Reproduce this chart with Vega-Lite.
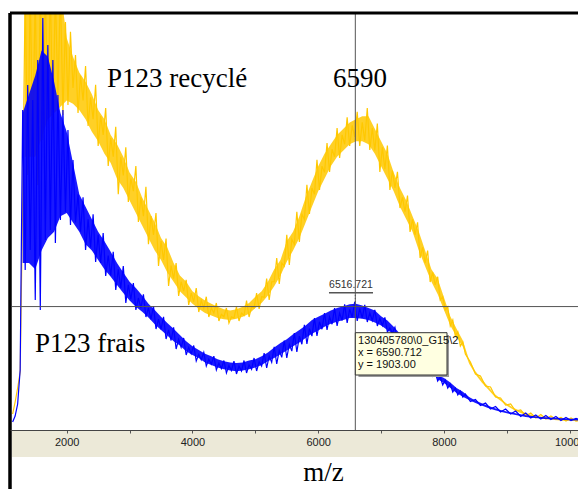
{
  "$schema": "https://vega.github.io/schema/vega-lite/v6.json",
  "width": 568,
  "height": 476,
  "autosize": {"type": "none"},
  "padding": {"left": 10, "top": 13, "right": 0, "bottom": 0},
  "background": "white",
  "config": {"view": {"stroke": null}},
  "datasets": {
    "recycle": [
      {"mz":1140,"i":184},{"mz":1180,"i":376},{"mz":1220,"i":600},{"mz":1260,"i":856},{"mz":1300,"i":3608},{"mz":1340,"i":7000},{"mz":1380,"i":4008},{"mz":1420,"i":7000},{"mz":1460,"i":4408},{"mz":1500,"i":7000},{"mz":1540,"i":3848},{"mz":1580,"i":7000},{"mz":1620,"i":4568},{"mz":1660,"i":7000},{"mz":1700,"i":5048},{"mz":1740,"i":7000},{"mz":1780,"i":4728},{"mz":1820,"i":7000},{"mz":1860,"i":5208},{"mz":1900,"i":7000},{"mz":1940,"i":4968},{"mz":1980,"i":6456},{"mz":2020,"i":5128},{"mz":2060,"i":6300},{"mz":2100,"i":5400},{"mz":2140,"i":5928},{"mz":2180,"i":5000},{"mz":2220,"i":5600},{"mz":2260,"i":5200},{"mz":2300,"i":5750},{"mz":2340,"i":4792},{"mz":2380,"i":5250},{"mz":2420,"i":4900},{"mz":2460,"i":5450},{"mz":2500,"i":4472},{"mz":2540,"i":4950},{"mz":2580,"i":4650},{"mz":2620,"i":5080},{"mz":2660,"i":4152},{"mz":2700,"i":4600},{"mz":2740,"i":4300},{"mz":2780,"i":4780},{"mz":2820,"i":3700},{"mz":2860,"i":4300},{"mz":2900,"i":4000},{"mz":2940,"i":4450},{"mz":2980,"i":3576},{"mz":3020,"i":3950},{"mz":3060,"i":3750},{"mz":3100,"i":4150},{"mz":3140,"i":3256},{"mz":3180,"i":3650},{"mz":3220,"i":3350},{"mz":3260,"i":3820},{"mz":3300,"i":2900},{"mz":3340,"i":3350},{"mz":3380,"i":3050},{"mz":3420,"i":3400},{"mz":3460,"i":2552},{"mz":3500,"i":2950},{"mz":3540,"i":2650},{"mz":3580,"i":2990},{"mz":3620,"i":2232},{"mz":3660,"i":2560},{"mz":3700,"i":2350},{"mz":3740,"i":2600},{"mz":3780,"i":2072},{"mz":3820,"i":2300},{"mz":3860,"i":2150},{"mz":3900,"i":2330},{"mz":3940,"i":1928},{"mz":3980,"i":2120},{"mz":4020,"i":1980},{"mz":4060,"i":2200},{"mz":4100,"i":1816},{"mz":4140,"i":2000},{"mz":4180,"i":1880},{"mz":4220,"i":2060},{"mz":4260,"i":1736},{"mz":4300,"i":1880},{"mz":4340,"i":1800},{"mz":4380,"i":1960},{"mz":4420,"i":1672},{"mz":4460,"i":1780},{"mz":4500,"i":1740},{"mz":4540,"i":1880},{"mz":4580,"i":1640},{"mz":4620,"i":1740},{"mz":4660,"i":1720},{"mz":4700,"i":1900},{"mz":4740,"i":1672},{"mz":4780,"i":1800},{"mz":4820,"i":1760},{"mz":4860,"i":2000},{"mz":4900,"i":1736},{"mz":4940,"i":1900},{"mz":4980,"i":1880},{"mz":5020,"i":2120},{"mz":5060,"i":1864},{"mz":5100,"i":2060},{"mz":5140,"i":2050},{"mz":5180,"i":2350},{"mz":5220,"i":2008},{"mz":5260,"i":2300},{"mz":5300,"i":2300},{"mz":5340,"i":2680},{"mz":5380,"i":2264},{"mz":5420,"i":2600},{"mz":5460,"i":2550},{"mz":5500,"i":3050},{"mz":5540,"i":2568},{"mz":5580,"i":2980},{"mz":5620,"i":2900},{"mz":5660,"i":3420},{"mz":5700,"i":2936},{"mz":5740,"i":3380},{"mz":5780,"i":3300},{"mz":5820,"i":3850},{"mz":5860,"i":3384},{"mz":5900,"i":3800},{"mz":5940,"i":3700},{"mz":5980,"i":4250},{"mz":6020,"i":3768},{"mz":6060,"i":4150},{"mz":6100,"i":4050},{"mz":6140,"i":4520},{"mz":6180,"i":4056},{"mz":6220,"i":4420},{"mz":6260,"i":4300},{"mz":6300,"i":4760},{"mz":6340,"i":4280},{"mz":6380,"i":4650},{"mz":6420,"i":4500},{"mz":6460,"i":4930},{"mz":6500,"i":4472},{"mz":6540,"i":4800},{"mz":6580,"i":4620},{"mz":6620,"i":5020},{"mz":6660,"i":4472},{"mz":6700,"i":4850},{"mz":6740,"i":4560},{"mz":6780,"i":5080},{"mz":6820,"i":4408},{"mz":6860,"i":4760},{"mz":6900,"i":4400},{"mz":6940,"i":4830},{"mz":6980,"i":4056},{"mz":7020,"i":4450},{"mz":7060,"i":4100},{"mz":7100,"i":4480},{"mz":7140,"i":3768},{"mz":7180,"i":4080},{"mz":7220,"i":3800},{"mz":7260,"i":4060},{"mz":7300,"i":3480},{"mz":7340,"i":3650},{"mz":7380,"i":3420},{"mz":7420,"i":3680},{"mz":7460,"i":3096},{"mz":7500,"i":3300},{"mz":7540,"i":3050},{"mz":7580,"i":3250},{"mz":7620,"i":2680},{"mz":7660,"i":2850},{"mz":7700,"i":2600},{"mz":7740,"i":2800},{"mz":7780,"i":2296},{"mz":7820,"i":2450},{"mz":7860,"i":2250},{"mz":7900,"i":2380},{"mz":7940,"i":2008},{"mz":7980,"i":2060},{"mz":8020,"i":1850},{"mz":8060,"i":1900},{"mz":8100,"i":1592},{"mz":8140,"i":1688},{"mz":8180,"i":1432},{"mz":8220,"i":1496},{"mz":8260,"i":1272},{"mz":8300,"i":1336},{"mz":8340,"i":1144},{"mz":8420,"i":1016},{"mz":8500,"i":824},{"mz":8580,"i":792},{"mz":8660,"i":632},{"mz":8740,"i":616},{"mz":8820,"i":456},{"mz":8900,"i":440},{"mz":8980,"i":328},{"mz":9060,"i":344},{"mz":9140,"i":232},{"mz":9220,"i":248},{"mz":9300,"i":152},{"mz":9380,"i":200},{"mz":9460,"i":120},{"mz":9540,"i":176},{"mz":9620,"i":104},{"mz":9700,"i":152},{"mz":9780,"i":96},{"mz":9860,"i":128},{"mz":9940,"i":72},{"mz":10020,"i":120},{"mz":10100,"i":72},{"mz":10180,"i":88}
    ],
    "recycle_band": [
      {"mz":1330,"lo":4300,"hi":7000},{"mz":1500,"lo":4300,"hi":7000},{"mz":1700,"lo":4900,"hi":7000},{"mz":1900,"lo":5100,"hi":7000},{"mz":2000,"lo":5200,"hi":6200},{"mz":2100,"lo":5150,"hi":5900},{"mz":2200,"lo":5050,"hi":5650},{"mz":2300,"lo":4900,"hi":5500},{"mz":2400,"lo":4700,"hi":5300},{"mz":2500,"lo":4550,"hi":5050},{"mz":2600,"lo":4350,"hi":4900},{"mz":2700,"lo":4200,"hi":4650},{"mz":2800,"lo":3950,"hi":4500},{"mz":2900,"lo":3800,"hi":4300},{"mz":3000,"lo":3600,"hi":4050},{"mz":3100,"lo":3400,"hi":3900},{"mz":3200,"lo":3200,"hi":3650},{"mz":3300,"lo":3000,"hi":3450},{"mz":3400,"lo":2800,"hi":3250},{"mz":3500,"lo":2650,"hi":3000},{"mz":3600,"lo":2450,"hi":2850},{"mz":3700,"lo":2300,"hi":2600},{"mz":3800,"lo":2150,"hi":2400},{"mz":3900,"lo":2050,"hi":2300},{"mz":4000,"lo":1950,"hi":2150},{"mz":4100,"lo":1870,"hi":2070},{"mz":4200,"lo":1800,"hi":2000},{"mz":4300,"lo":1760,"hi":1950},{"mz":4400,"lo":1720,"hi":1900},{"mz":4500,"lo":1700,"hi":1860},{"mz":4600,"lo":1690,"hi":1840},{"mz":4700,"lo":1710,"hi":1860},{"mz":4800,"lo":1740,"hi":1900},{"mz":4900,"lo":1790,"hi":1960},{"mz":5000,"lo":1880,"hi":2060},{"mz":5100,"lo":1960,"hi":2150},{"mz":5200,"lo":2080,"hi":2300},{"mz":5300,"lo":2230,"hi":2500},{"mz":5400,"lo":2400,"hi":2650},{"mz":5500,"lo":2620,"hi":2950},{"mz":5600,"lo":2800,"hi":3100},{"mz":5700,"lo":3000,"hi":3350},{"mz":5800,"lo":3250,"hi":3650},{"mz":5900,"lo":3500,"hi":3900},{"mz":6000,"lo":3750,"hi":4150},{"mz":6100,"lo":3950,"hi":4350},{"mz":6200,"lo":4150,"hi":4500},{"mz":6300,"lo":4300,"hi":4650},{"mz":6400,"lo":4400,"hi":4750},{"mz":6500,"lo":4500,"hi":4850},{"mz":6600,"lo":4550,"hi":4900},{"mz":6700,"lo":4550,"hi":4950},{"mz":6800,"lo":4500,"hi":4950},{"mz":6900,"lo":4350,"hi":4750},{"mz":7000,"lo":4150,"hi":4550},{"mz":7100,"lo":3950,"hi":4350},{"mz":7200,"lo":3750,"hi":4050},{"mz":7300,"lo":3500,"hi":3800},{"mz":7400,"lo":3300,"hi":3600},{"mz":7500,"lo":3100,"hi":3350},{"mz":7600,"lo":2800,"hi":3100},{"mz":7700,"lo":2550,"hi":2800},{"mz":7800,"lo":2300,"hi":2500},{"mz":7900,"lo":2100,"hi":2350},{"mz":8000,"lo":1850,"hi":2050},{"mz":8100,"lo":1600,"hi":1750},{"mz":8200,"lo":1420,"hi":1550},{"mz":8300,"lo":1260,"hi":1360},{"mz":8400,"lo":990,"hi":1050},{"mz":8500,"lo":820,"hi":870},{"mz":8600,"lo":690,"hi":740},{"mz":8700,"lo":580,"hi":625},{"mz":8800,"lo":470,"hi":510},{"mz":8900,"lo":395,"hi":430},{"mz":9000,"lo":315,"hi":350},{"mz":9100,"lo":255,"hi":285},{"mz":9200,"lo":210,"hi":240},{"mz":9300,"lo":170,"hi":200},{"mz":9400,"lo":140,"hi":170},{"mz":9500,"lo":120,"hi":150},{"mz":9600,"lo":105,"hi":135},{"mz":9700,"lo":95,"hi":125},{"mz":9800,"lo":85,"hi":115},{"mz":9900,"lo":78,"hi":105},{"mz":10000,"lo":75,"hi":100},{"mz":10131,"lo":70,"hi":95}
    ],
    "frais": [
      {"mz":1140,"i":56},{"mz":1180,"i":152},{"mz":1220,"i":344},{"mz":1260,"i":888},{"mz":1300,"i":5048},{"mz":1340,"i":2488},{"mz":1380,"i":5448},{"mz":1420,"i":2808},{"mz":1460,"i":5208},{"mz":1500,"i":2008},{"mz":1540,"i":5848},{"mz":1580,"i":1848},{"mz":1620,"i":6520},{"mz":1660,"i":2968},{"mz":1700,"i":6088},{"mz":1740,"i":3128},{"mz":1780,"i":5848},{"mz":1820,"i":2920},{"mz":1860,"i":5288},{"mz":1900,"i":3288},{"mz":1940,"i":5048},{"mz":1980,"i":3416},{"mz":2020,"i":4728},{"mz":2060,"i":3208},{"mz":2100,"i":4248},{"mz":2140,"i":3250},{"mz":2180,"i":3700},{"mz":2220,"i":3100},{"mz":2260,"i":3650},{"mz":2300,"i":2808},{"mz":2340,"i":3300},{"mz":2380,"i":2850},{"mz":2420,"i":3380},{"mz":2460,"i":2616},{"mz":2500,"i":3050},{"mz":2540,"i":2600},{"mz":2580,"i":3080},{"mz":2620,"i":2392},{"mz":2660,"i":2720},{"mz":2700,"i":2400},{"mz":2740,"i":2780},{"mz":2780,"i":2168},{"mz":2820,"i":2500},{"mz":2860,"i":2200},{"mz":2900,"i":2550},{"mz":2940,"i":1960},{"mz":2980,"i":2250},{"mz":3020,"i":2020},{"mz":3060,"i":2280},{"mz":3100,"i":1848},{"mz":3140,"i":2040},{"mz":3180,"i":1880},{"mz":3220,"i":2100},{"mz":3260,"i":1736},{"mz":3300,"i":1880},{"mz":3340,"i":1700},{"mz":3380,"i":1910},{"mz":3420,"i":1544},{"mz":3460,"i":1700},{"mz":3500,"i":1540},{"mz":3540,"i":1740},{"mz":3580,"i":1384},{"mz":3620,"i":1530},{"mz":3660,"i":1360},{"mz":3700,"i":1570},{"mz":3740,"i":1224},{"mz":3780,"i":1380},{"mz":3820,"i":1250},{"mz":3860,"i":1400},{"mz":3900,"i":1128},{"mz":3940,"i":1250},{"mz":3980,"i":1150},{"mz":4020,"i":1280},{"mz":4060,"i":1032},{"mz":4100,"i":1140},{"mz":4140,"i":1050},{"mz":4180,"i":1170},{"mz":4220,"i":952},{"mz":4260,"i":1060},{"mz":4300,"i":980},{"mz":4340,"i":1110},{"mz":4380,"i":888},{"mz":4420,"i":1000},{"mz":4460,"i":910},{"mz":4500,"i":1040},{"mz":4540,"i":840},{"mz":4580,"i":960},{"mz":4620,"i":880},{"mz":4660,"i":1030},{"mz":4700,"i":824},{"mz":4740,"i":950},{"mz":4780,"i":870},{"mz":4820,"i":1040},{"mz":4860,"i":840},{"mz":4900,"i":970},{"mz":4940,"i":900},{"mz":4980,"i":1080},{"mz":5020,"i":872},{"mz":5060,"i":1020},{"mz":5100,"i":950},{"mz":5140,"i":1160},{"mz":5180,"i":920},{"mz":5220,"i":1110},{"mz":5260,"i":1010},{"mz":5300,"i":1260},{"mz":5340,"i":984},{"mz":5380,"i":1200},{"mz":5420,"i":1090},{"mz":5460,"i":1360},{"mz":5500,"i":1080},{"mz":5540,"i":1300},{"mz":5580,"i":1190},{"mz":5620,"i":1480},{"mz":5660,"i":1176},{"mz":5700,"i":1430},{"mz":5740,"i":1300},{"mz":5780,"i":1610},{"mz":5820,"i":1304},{"mz":5860,"i":1550},{"mz":5900,"i":1430},{"mz":5940,"i":1720},{"mz":5980,"i":1432},{"mz":6020,"i":1660},{"mz":6060,"i":1540},{"mz":6100,"i":1800},{"mz":6140,"i":1528},{"mz":6180,"i":1740},{"mz":6220,"i":1620},{"mz":6260,"i":1880},{"mz":6300,"i":1592},{"mz":6340,"i":1800},{"mz":6380,"i":1680},{"mz":6420,"i":1940},{"mz":6460,"i":1640},{"mz":6500,"i":1860},{"mz":6540,"i":1730},{"mz":6580,"i":1980},{"mz":6620,"i":1672},{"mz":6660,"i":1870},{"mz":6700,"i":1720},{"mz":6740,"i":1930},{"mz":6780,"i":1656},{"mz":6820,"i":1800},{"mz":6860,"i":1680},{"mz":6900,"i":1850},{"mz":6940,"i":1592},{"mz":6980,"i":1710},{"mz":7020,"i":1600},{"mz":7060,"i":1730},{"mz":7100,"i":1496},{"mz":7140,"i":1560},{"mz":7180,"i":1480},{"mz":7220,"i":1570},{"mz":7260,"i":1352},{"mz":7300,"i":1448},{"mz":7340,"i":1288},{"mz":7380,"i":1352},{"mz":7420,"i":1192},{"mz":7460,"i":1256},{"mz":7500,"i":1112},{"mz":7540,"i":1160},{"mz":7580,"i":1032},{"mz":7620,"i":1080},{"mz":7660,"i":952},{"mz":7700,"i":1000},{"mz":7740,"i":872},{"mz":7780,"i":920},{"mz":7820,"i":792},{"mz":7860,"i":856},{"mz":7900,"i":712},{"mz":7940,"i":776},{"mz":7980,"i":648},{"mz":8020,"i":728},{"mz":8060,"i":600},{"mz":8100,"i":664},{"mz":8140,"i":536},{"mz":8180,"i":600},{"mz":8220,"i":488},{"mz":8260,"i":552},{"mz":8300,"i":456},{"mz":8340,"i":504},{"mz":8420,"i":384},{"mz":8500,"i":416},{"mz":8580,"i":320},{"mz":8660,"i":360},{"mz":8740,"i":264},{"mz":8820,"i":304},{"mz":8900,"i":216},{"mz":8980,"i":264},{"mz":9060,"i":184},{"mz":9140,"i":232},{"mz":9220,"i":144},{"mz":9300,"i":200},{"mz":9380,"i":120},{"mz":9460,"i":168},{"mz":9540,"i":104},{"mz":9620,"i":160},{"mz":9700,"i":96},{"mz":9780,"i":144},{"mz":9860,"i":80},{"mz":9940,"i":128},{"mz":10020,"i":80},{"mz":10100,"i":112},{"mz":10180,"i":88}
    ],
    "frais_band": [
      {"mz":1300,"lo":2600,"hi":5000},{"mz":1400,"lo":2600,"hi":5300},{"mz":1500,"lo":2500,"hi":5600},{"mz":1600,"lo":2800,"hi":6000},{"mz":1700,"lo":3000,"hi":5900},{"mz":1800,"lo":3100,"hi":5500},{"mz":1900,"lo":3350,"hi":5000},{"mz":2000,"lo":3400,"hi":4700},{"mz":2100,"lo":3250,"hi":4200},{"mz":2200,"lo":3100,"hi":3700},{"mz":2300,"lo":2900,"hi":3500},{"mz":2400,"lo":2800,"hi":3300},{"mz":2500,"lo":2650,"hi":3100},{"mz":2600,"lo":2500,"hi":2950},{"mz":2700,"lo":2380,"hi":2780},{"mz":2800,"lo":2250,"hi":2600},{"mz":2900,"lo":2120,"hi":2450},{"mz":3000,"lo":2000,"hi":2300},{"mz":3100,"lo":1900,"hi":2200},{"mz":3200,"lo":1820,"hi":2080},{"mz":3300,"lo":1730,"hi":1950},{"mz":3400,"lo":1620,"hi":1850},{"mz":3500,"lo":1530,"hi":1740},{"mz":3600,"lo":1440,"hi":1640},{"mz":3700,"lo":1350,"hi":1550},{"mz":3800,"lo":1280,"hi":1450},{"mz":3900,"lo":1190,"hi":1350},{"mz":4000,"lo":1130,"hi":1270},{"mz":4100,"lo":1080,"hi":1210},{"mz":4200,"lo":1010,"hi":1150},{"mz":4300,"lo":970,"hi":1110},{"mz":4400,"lo":930,"hi":1060},{"mz":4500,"lo":900,"hi":1030},{"mz":4600,"lo":880,"hi":1010},{"mz":4700,"lo":870,"hi":1000},{"mz":4800,"lo":880,"hi":1010},{"mz":4900,"lo":900,"hi":1040},{"mz":5000,"lo":930,"hi":1060},{"mz":5100,"lo":970,"hi":1110},{"mz":5200,"lo":1030,"hi":1170},{"mz":5300,"lo":1080,"hi":1250},{"mz":5400,"lo":1140,"hi":1320},{"mz":5500,"lo":1200,"hi":1380},{"mz":5600,"lo":1270,"hi":1460},{"mz":5700,"lo":1330,"hi":1530},{"mz":5800,"lo":1400,"hi":1600},{"mz":5900,"lo":1470,"hi":1690},{"mz":6000,"lo":1520,"hi":1740},{"mz":6100,"lo":1580,"hi":1790},{"mz":6200,"lo":1630,"hi":1840},{"mz":6300,"lo":1660,"hi":1880},{"mz":6400,"lo":1690,"hi":1910},{"mz":6500,"lo":1720,"hi":1940},{"mz":6600,"lo":1720,"hi":1950},{"mz":6700,"lo":1710,"hi":1920},{"mz":6800,"lo":1690,"hi":1880},{"mz":6900,"lo":1650,"hi":1840},{"mz":7000,"lo":1600,"hi":1750},{"mz":7100,"lo":1530,"hi":1680},{"mz":7200,"lo":1460,"hi":1580},{"mz":7300,"lo":1380,"hi":1470},{"mz":7400,"lo":1270,"hi":1370},{"mz":7500,"lo":1140,"hi":1250},{"mz":7600,"lo":1060,"hi":1130},{"mz":7700,"lo":960,"hi":1030},{"mz":7800,"lo":860,"hi":930},{"mz":7900,"lo":740,"hi":810},{"mz":8000,"lo":680,"hi":760},{"mz":8100,"lo":600,"hi":690},{"mz":8200,"lo":520,"hi":600},{"mz":8300,"lo":460,"hi":540},{"mz":8400,"lo":410,"hi":455},{"mz":8500,"lo":360,"hi":400},{"mz":8600,"lo":320,"hi":355},{"mz":8700,"lo":280,"hi":315},{"mz":8800,"lo":250,"hi":282},{"mz":8900,"lo":220,"hi":250},{"mz":9000,"lo":195,"hi":225},{"mz":9100,"lo":175,"hi":205},{"mz":9200,"lo":155,"hi":185},{"mz":9300,"lo":138,"hi":165},{"mz":9400,"lo":125,"hi":152},{"mz":9500,"lo":115,"hi":142},{"mz":9600,"lo":105,"hi":132},{"mz":9700,"lo":100,"hi":127},{"mz":9800,"lo":95,"hi":122},{"mz":9900,"lo":90,"hi":117},{"mz":10000,"lo":85,"hi":110},{"mz":10131,"lo":82,"hi":107}
    ]
  },
  "encoding": {
    "x": {
      "field": "mz", "type": "quantitative",
      "scale": {"domain": [1098.3, 10131.2], "nice": false, "zero": false},
      "axis": {
        "orient": "bottom", "offset": -59, "zindex": 1,
        "values": [2000, 3000, 4000, 5000, 6000, 7000, 8000, 9000, 10000],
        "labelExpr": "datum.value % 2000 === 0 ? format(datum.value, 'd') : ''",
        "labelFlush": false, "labelOverlap": false,
        "tickSize": 3, "tickColor": "#555555", "tickWidth": 1,
        "domainColor": "#444444", "domainWidth": 1,
        "labelFont": "Liberation Sans", "labelFontSize": 11, "labelColor": "#222222", "labelPadding": 3,
        "grid": false,
        "title": "m/z", "titleFont": "Liberation Serif", "titleFontSize": 27, "titleFontWeight": "normal",
        "titleColor": "#000000", "titleX": 313, "titleY": 50, "titleAlign": "center", "titleBaseline": "alphabetic"
      }
    },
    "y": {
      "field": "i", "type": "quantitative",
      "scale": {"domain": [-1016, 6600], "nice": false, "zero": false},
      "axis": null
    }
  },
  "layer": [
    {
      "data": {"values": [{"mz": 1130, "mz2": 10131, "i": -504, "i2": -72}]},
      "mark": {"type": "rect", "color": "#ECE9D8"},
      "encoding": {"x2": {"field": "mz2"}, "y2": {"field": "i2"}}
    },
    {
      "data": {"name": "recycle_band"},
      "mark": {"type": "area", "color": "#FFC800", "opacity": 0.85, "clip": true},
      "encoding": {
        "y": {"field": "lo", "type": "quantitative", "scale": {"domain": [-1016, 6600], "nice": false, "zero": false}, "axis": null},
        "y2": {"field": "hi"}
      }
    },
    {
      "data": {"name": "recycle"},
      "mark": {"type": "line", "color": "#FFC800", "strokeWidth": 1.2, "clip": true}
    },
    {
      "data": {"name": "frais_band"},
      "mark": {"type": "area", "color": "#0000FF", "opacity": 0.9, "clip": true},
      "encoding": {
        "y": {"field": "lo", "type": "quantitative", "scale": {"domain": [-1016, 6600], "nice": false, "zero": false}, "axis": null},
        "y2": {"field": "hi"}
      }
    },
    {
      "data": {"name": "frais"},
      "mark": {"type": "line", "color": "#0000FF", "strokeWidth": 1.2, "clip": true}
    },
    {
      "data": {"values": [{"mz": 6590, "i": -72, "i2": 6600}]},
      "mark": {"type": "rule", "color": "#555555", "strokeWidth": 1},
      "encoding": {"y2": {"field": "i2"}}
    },
    {
      "data": {"values": [{"mz": 1130, "mz2": 10131, "i": 1903}]},
      "mark": {"type": "rule", "color": "#555555", "strokeWidth": 1},
      "encoding": {"x2": {"field": "mz2"}}
    },
    {
      "data": {"values": [{"mz": 6171, "mz2": 6871, "i": 2125}]},
      "mark": {"type": "rule", "color": "#555555", "strokeWidth": 1.5},
      "encoding": {"x2": {"field": "mz2"}}
    },
    {
      "data": {"values": [{"mz": 6590, "i": 2088, "i2": 1928}]},
      "mark": {"type": "rule", "color": "#555555", "strokeWidth": 1, "strokeDash": [1, 2]},
      "encoding": {"y2": {"field": "i2"}}
    },
    {
      "data": {"values": [{"mz": 6521, "i": 2200, "label": "6516.721"}]},
      "mark": {"type": "text", "font": "Liberation Sans", "fontSize": 10.5, "color": "#333333", "align": "center", "baseline": "alphabetic"},
      "encoding": {"text": {"field": "label"}}
    },
    {
      "data": {"values": [{"mz": 6640, "mz2": 8080, "i": 1450, "i2": 776}]},
      "mark": {"type": "rect", "fill": "#9A9A9A"},
      "encoding": {"x2": {"field": "mz2"}, "y2": {"field": "i2"}}
    },
    {
      "data": {"values": [{"mz": 6590, "mz2": 8048, "i": 1485, "i2": 808}]},
      "mark": {"type": "rect", "fill": "#FFFFE1", "stroke": "#333333", "strokeWidth": 1},
      "encoding": {"x2": {"field": "mz2"}, "y2": {"field": "i2"}}
    },
    {
      "data": {"values": [
        {"mz": 6633, "i": 1357, "label": "130405780\\0_G15\\2"},
        {"mz": 6633, "i": 1160, "label": "x = 6590.712"},
        {"mz": 6633, "i": 968, "label": "y = 1903.00"}
      ]},
      "mark": {"type": "text", "font": "Liberation Sans", "fontSize": 11, "color": "#111111", "align": "left", "baseline": "middle"},
      "encoding": {"text": {"field": "label"}}
    },
    {
      "data": {"values": [
        {"mz": 2641, "i": 5416, "label": "P123 recyclé"},
        {"mz": 6235, "i": 5416, "label": "6590"},
        {"mz": 1496, "i": 1176, "label": "P123 frais"}
      ]},
      "mark": {"type": "text", "font": "Liberation Serif", "fontSize": 27, "color": "#000000", "align": "left", "baseline": "alphabetic"},
      "encoding": {"text": {"field": "label"}}
    },
    {
      "data": {"values": [{"mz": 1098.3, "i": -1016, "i2": 6600}]},
      "mark": {"type": "rule", "color": "#000000", "strokeWidth": 3.5},
      "encoding": {"y2": {"field": "i2"}}
    },
    {
      "data": {"values": [{"mz": 1098.3, "mz2": 10131.2, "i": 6600}]},
      "mark": {"type": "rule", "color": "#000000", "strokeWidth": 3},
      "encoding": {"x2": {"field": "mz2"}}
    }
  ]
}
